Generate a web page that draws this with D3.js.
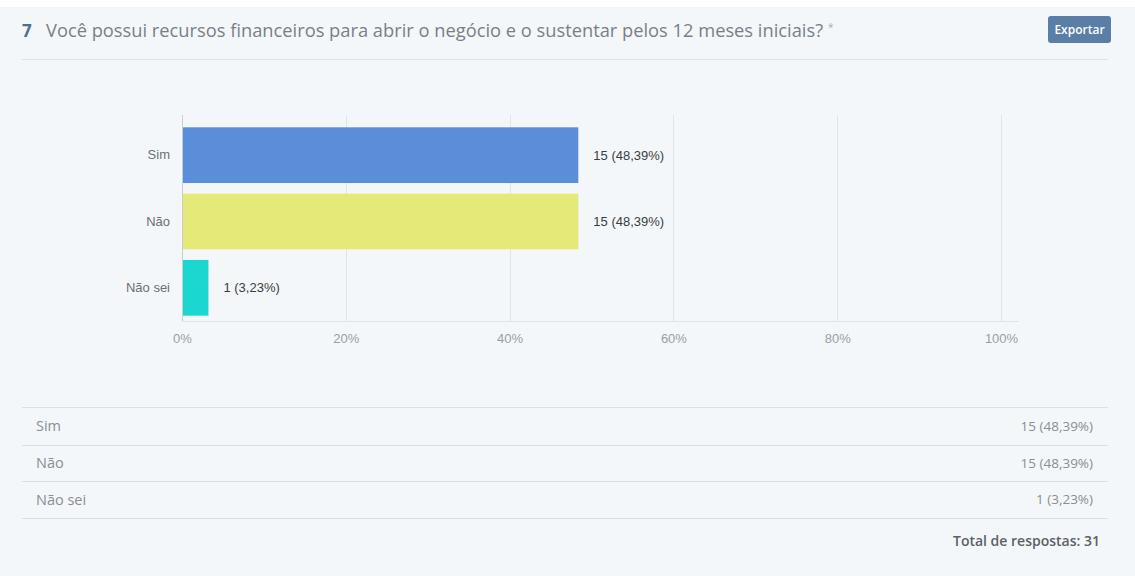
<!DOCTYPE html>
<html>
<head>
<meta charset="utf-8">
<script src="https://cdn.jsdelivr.net/npm/d3@7"></script>
<style>
  html, body { margin: 0; padding: 0; background: #ffffff; }
  svg { display: block; }
</style>
</head>
<body>
<svg id="chart" width="1135" height="576"></svg>
<script>
// Question 7 results
const questionNumber = "7";
const questionText = "Você possui recursos financeiros para abrir o negócio e o sustentar pelos 12 meses iniciais?";
const categories = ["Sim", "Não", "Não sei"];
const counts = [15, 15, 1];
const percents = [48.39, 48.39, 3.23];
const barColors = ["#5b8ed8", "#e5e977", "#1ad8cf"];
const tickValues = [0, 20, 40, 60, 80, 100];
const totalResponses = 31;

const fmtPct = v => v.toFixed(2).replace(".", ",") + "%";
const labelFor = i => `${counts[i]} (${fmtPct(percents[i])})`;

const svg = d3.select("#chart");

// panel background
svg.append("rect").attr("x", 0).attr("y", 7).attr("width", 1135).attr("height", 569).attr("fill", "#f4f7fa");

// header
svg.append("text").attr("x", 22).attr("y", 37)
  .attr("font-family", "'Open Sans', sans-serif").attr("font-size", 17).attr("font-weight", 700)
  .attr("fill", "#4f6f8f").text(questionNumber);
const title = svg.append("text").attr("x", 46).attr("y", 37)
  .attr("font-family", "'Open Sans', sans-serif").attr("font-size", 18.3)
  .attr("fill", "#7a7f85").text(questionText);
title.append("tspan").attr("dx", 5).attr("dy", -6).attr("font-size", 10).attr("fill", "#a8acb0").text("*");

// export button
svg.append("rect").attr("x", 1048).attr("y", 16).attr("width", 63).attr("height", 27).attr("rx", 3)
  .attr("fill", "#5a7ea6");
svg.append("text").attr("x", 1079.5).attr("y", 33.5).attr("text-anchor", "middle")
  .attr("font-family", "'Open Sans', sans-serif").attr("font-size", 12).attr("font-weight", 600)
  .attr("fill", "#ffffff").text("Exportar");

svg.append("line").attr("x1", 22).attr("x2", 1108).attr("y1", 59.5).attr("y2", 59.5)
  .attr("stroke", "#dde1e5").attr("stroke-width", 1);

// bar chart
const x = d3.scaleLinear().domain([0, 100]).range([182, 1001]);
const y = d3.scaleBand().domain(categories).range([122, 321]).paddingInner(0.16).paddingOuter(0.08);
const plotTop = 115, plotBottom = 321;
const chartFont = "'Liberation Sans', Arial, sans-serif";

const g = svg.append("g");

// vertical gridlines
g.selectAll("line.grid").data(tickValues.slice(1)).join("line")
  .attr("class", "grid")
  .attr("x1", d => Math.round(x(d)) + 0.5).attr("x2", d => Math.round(x(d)) + 0.5)
  .attr("y1", plotTop).attr("y2", plotBottom)
  .attr("stroke", "#e1e4e8").attr("stroke-width", 1);

// baseline
g.append("line").attr("x1", 182).attr("x2", 1019).attr("y1", plotBottom + 0.5).attr("y2", plotBottom + 0.5)
  .attr("stroke", "#e1e4e8");

// bars
g.selectAll("rect.bar").data(categories).join("rect")
  .attr("class", "bar")
  .attr("x", x(0)).attr("y", d => y(d))
  .attr("width", (d, i) => x(percents[i]) - x(0))
  .attr("height", y.bandwidth())
  .attr("fill", (d, i) => barColors[i]);

// left axis line
g.append("line").attr("x1", 182.5).attr("x2", 182.5).attr("y1", plotTop).attr("y2", plotBottom)
  .attr("stroke", "#c9ccd0");

// x axis tick labels
const xAxis = d3.axisBottom(x).tickValues(tickValues).tickSize(0).tickPadding(0).tickFormat(d => d + "%");
const xg = g.append("g").attr("transform", `translate(0,${plotBottom + 17})`).call(xAxis);
xg.select(".domain").remove();
xg.selectAll("text").attr("font-family", chartFont).attr("font-size", 13)
  .attr("fill", "#9a9ea3").attr("dy", "0.35em");

// y axis category labels
const yAxis = d3.axisLeft(y).tickSize(0).tickPadding(12);
const yg = g.append("g").attr("transform", "translate(182,0)").call(yAxis);
yg.select(".domain").remove();
yg.selectAll("text").attr("font-family", chartFont).attr("font-size", 13)
  .attr("fill", "#6b6f74");

// value labels
g.selectAll("text.val").data(categories).join("text")
  .attr("class", "val")
  .attr("x", (d, i) => x(percents[i]) + 15)
  .attr("y", d => y(d) + y.bandwidth() / 2)
  .attr("dy", "0.35em")
  .attr("font-family", chartFont).attr("font-size", 13)
  .attr("fill", "#3a3d40")
  .text((d, i) => labelFor(i));

// summary table
const rowLines = [407, 445, 481, 518];
svg.selectAll("line.row").data(rowLines).join("line")
  .attr("class", "row")
  .attr("x1", 22).attr("x2", 1108).attr("y1", d => d + 0.5).attr("y2", d => d + 0.5)
  .attr("stroke", "#dcdfe3");

const rowMid = (i) => (rowLines[i] + rowLines[i + 1]) / 2;
svg.selectAll("text.rowlab").data(categories).join("text")
  .attr("class", "rowlab")
  .attr("x", 36).attr("y", (d, i) => rowMid(i)).attr("dy", "0.35em")
  .attr("font-family", "'Open Sans', sans-serif").attr("font-size", 14.5)
  .attr("fill", "#8a8e93").text(d => d);
svg.selectAll("text.rowval").data(categories).join("text")
  .attr("class", "rowval")
  .attr("x", 1093).attr("y", (d, i) => rowMid(i)).attr("dy", "0.35em").attr("text-anchor", "end")
  .attr("font-family", "'Open Sans', sans-serif").attr("font-size", 13.5)
  .attr("fill", "#8a8e93").text((d, i) => labelFor(i));

svg.append("text").attr("x", 1100).attr("y", 541).attr("dy", "0.35em").attr("text-anchor", "end")
  .attr("font-family", "'Open Sans', sans-serif").attr("font-size", 14).attr("font-weight", 600)
  .attr("fill", "#5c6166").text(`Total de respostas: ${totalResponses}`);
</script>
</body>
</html>
